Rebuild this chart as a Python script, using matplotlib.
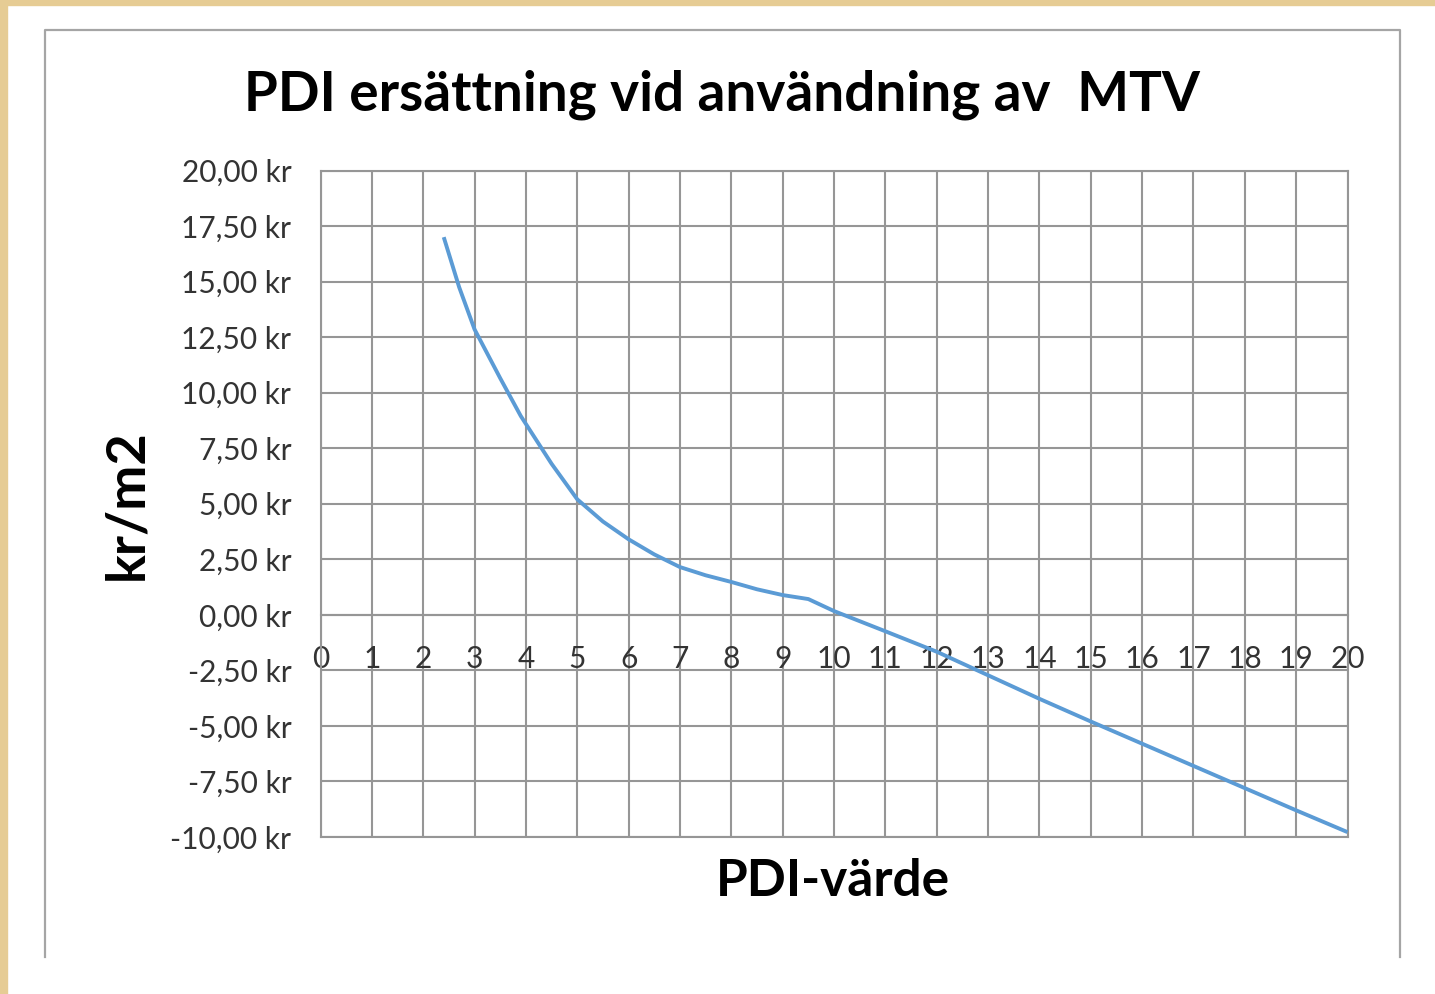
import matplotlib
matplotlib.use("Agg")
import matplotlib.pyplot as plt
from matplotlib.lines import Line2D
from matplotlib.patches import Rectangle

# ---- data ----
pdi = [2.4, 2.7, 3, 3.5, 3.9, 4.5, 5, 5.5, 6, 6.5, 7, 7.5, 8, 8.5, 9, 9.5,
       10, 11, 12, 13, 14, 15, 16, 17, 18, 19, 20]
kr_per_m2 = [17.0, 14.75, 12.85, 10.65, 8.95, 6.8, 5.2, 4.2, 3.4, 2.72, 2.15, 1.78, 1.48, 1.15, 0.89, 0.71,
             0.17, -0.74, -1.66, -2.72, -3.78, -4.8, -5.8, -6.8, -7.8, -8.8, -9.78]
x_ticks = list(range(0, 21))
y_ticks = [-10, -7.5, -5, -2.5, 0, 2.5, 5, 7.5, 10, 12.5, 15, 17.5, 20]
y_tick_labels = [f"{v:.2f}".replace(".", ",") + " kr" for v in y_ticks]
title = "PDI ersättning vid användning av  MTV"
x_label = "PDI-värde"
y_label = "kr/m2"

W, H = 1435, 994
fig = plt.figure(figsize=(W / 100, H / 100), dpi=100)
fig.patch.set_facecolor("white")

def fx(px):
    return px / W

def fy(py):
    return 1 - py / H

# beige textured border (top and left strips)
beige = "#E6CC94"
fig.patches.append(Rectangle((0, fy(5)), 1, 5 / H, transform=fig.transFigure, color=beige, zorder=0))
fig.patches.append(Rectangle((0, 0), fx(7), 1, transform=fig.transFigure, color=beige, zorder=0))

# chart frame (no bottom edge)
frame_c = "#A5A5A5"
fig.lines.append(Line2D([fx(45), fx(45), fx(1400), fx(1400)], [fy(957), fy(30), fy(30), fy(957)],
                        transform=fig.transFigure, color=frame_c, lw=1.6))

left, right, top, bottom = 320.5, 1347.5, 170.5, 837
ax = fig.add_axes([fx(left), fy(bottom), (right - left) / W, (bottom - top) / H])

grid_c = "#969696"
ax.set_xlim(0, 20)
ax.set_ylim(-10, 20)
ax.set_xticks(x_ticks)
ax.set_xticklabels([str(t) for t in x_ticks])
ax.set_yticks(y_ticks)
ax.set_yticklabels(y_tick_labels)
ax.grid(True, color=grid_c, lw=1.5)
ax.set_axisbelow(True)
for s in ax.spines.values():
    s.set_color(grid_c)
    s.set_linewidth(1.5)
ax.spines["bottom"].set_position(("data", 0))
ax.axhline(-10, color=grid_c, lw=1.5, clip_on=False)
ax.tick_params(axis="both", length=0, labelsize=21.5, labelcolor="#333333")
ax.tick_params(axis="x", pad=22)
ax.tick_params(axis="y", pad=21)
for lab in ax.get_xticklabels() + ax.get_yticklabels():
    lab.set_fontfamily("Lato")

ax.plot(pdi, kr_per_m2, color="#5B9BD5", lw=2.8, solid_capstyle="butt",
        solid_joinstyle="round", zorder=3)

fig.text(fx(722), fy(95), title, ha="center", va="center", fontsize=39.5, fontweight="bold",
         family="Lato", color="black")
fig.text(fx(833), fy(882), x_label, ha="center", va="center", fontsize=37, fontweight="bold",
         family="Lato", color="black")
fig.text(fx(127), fy(505), y_label, ha="center", va="center", fontsize=39, fontweight="bold",
         family="Lato", color="black", rotation=90)

fig.savefig("out.png", dpi=100)
